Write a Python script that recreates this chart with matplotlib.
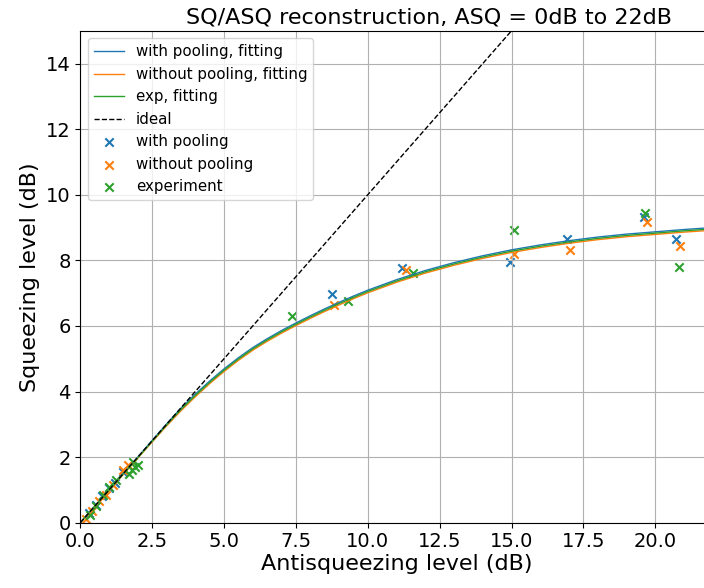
import matplotlib
matplotlib.use("Agg")
import matplotlib.pyplot as plt

# fitted curves
asq_fit = [0, 0.5, 1, 1.5, 2, 2.5, 3, 3.5, 4, 4.5, 5, 5.5, 6, 6.5, 7, 7.5, 8, 8.5, 9, 9.5, 10,
           11, 12, 13, 14, 15, 16, 17, 18, 19, 20, 21, 22]
sq_fit_pool = [0, 0.5, 1.0, 1.5, 2.0, 2.51, 3.01, 3.49, 3.92, 4.32, 4.69, 5.03, 5.34,
               5.61, 5.86, 6.09, 6.31, 6.52, 6.72, 6.91, 7.09,
               7.41, 7.69, 7.93, 8.14, 8.32, 8.47, 8.6, 8.71, 8.8, 8.87, 8.94, 9.0]
sq_fit_nopool = [0, 0.49, 0.98, 1.48, 1.97, 2.46, 2.95, 3.41, 3.84, 4.24, 4.61, 4.95, 5.26,
                 5.53, 5.78, 6.01, 6.23, 6.44, 6.64, 6.83, 7.01,
                 7.33, 7.61, 7.85, 8.06, 8.24, 8.39, 8.52, 8.63, 8.72, 8.79, 8.86, 8.92]
sq_fit_exp = [0, 0.5, 0.99, 1.49, 1.98, 2.48, 2.98, 3.45, 3.88, 4.28, 4.65, 4.99, 5.3,
              5.57, 5.82, 6.05, 6.27, 6.48, 6.68, 6.87, 7.05,
              7.37, 7.65, 7.89, 8.1, 8.28, 8.43, 8.56, 8.67, 8.76, 8.83, 8.9, 8.96]

ideal_x = [0, 22]
ideal_y = [0, 22]

# measured / simulated points
asq_pool = [0.3, 0.55, 0.75, 1.0, 1.2, 1.5, 8.74, 11.18, 14.94, 16.93, 19.62, 20.73]
sq_pool = [0.3, 0.55, 0.8, 1.05, 1.2, 1.55, 6.98, 7.78, 7.95, 8.65, 9.31, 8.65]

asq_nopool = [0.2, 0.4, 0.65, 0.9, 1.15, 1.5, 1.65, 8.81, 11.32, 15.08, 17.05, 19.71, 20.87]
sq_nopool = [0.1, 0.35, 0.65, 0.85, 1.15, 1.6, 1.75, 6.65, 7.72, 8.18, 8.32, 9.16, 8.44]

asq_exp = [0.35, 0.55, 0.8, 1.0, 1.25, 1.7, 1.8, 1.9, 2.0, 1.85,
           7.35, 9.32, 11.57, 15.08, 19.65, 20.83]
sq_exp = [0.25, 0.5, 0.85, 1.1, 1.3, 1.5, 1.6, 1.7, 1.75, 1.85,
          6.29, 6.77, 7.62, 8.92, 9.45, 7.81]

fig = plt.figure(figsize=(7.04, 5.88), dpi=100)
ax = fig.add_axes([0.114, 0.111, 0.8985, 0.8367])

ax.plot(asq_fit, sq_fit_pool, color="C0", lw=1, label="with pooling, fitting")
ax.plot(asq_fit, sq_fit_nopool, color="C1", lw=1, label="without pooling, fitting")
ax.plot(asq_fit, sq_fit_exp, color="C2", lw=1, label="exp, fitting")
ax.plot(ideal_x, ideal_y, "k--", lw=1, label="ideal")

ax.scatter(asq_pool, sq_pool, marker="x", color="C0", label="with pooling")
ax.scatter(asq_nopool, sq_nopool, marker="x", color="C1", label="without pooling")
ax.scatter(asq_exp, sq_exp, marker="x", color="C2", label="experiment")

ax.set_xlim(0, 22)
ax.set_ylim(0, 15)
ax.set_xticks([0, 2.5, 5, 7.5, 10, 12.5, 15, 17.5, 20])
ax.set_yticks([0, 2, 4, 6, 8, 10, 12, 14])
ax.tick_params(labelsize=14)
ax.grid(True)
ax.set_xlabel("Antisqueezing level (dB)", fontsize=16, labelpad=2)
ax.set_ylabel("Squeezing level (dB)", fontsize=16)
ax.set_title("SQ/ASQ reconstruction, ASQ = 0dB to 22dB", fontsize=16, pad=5, x=0.551)
ax.legend(loc="upper left", fontsize=10.8)

fig.savefig("out.png", dpi=100)
